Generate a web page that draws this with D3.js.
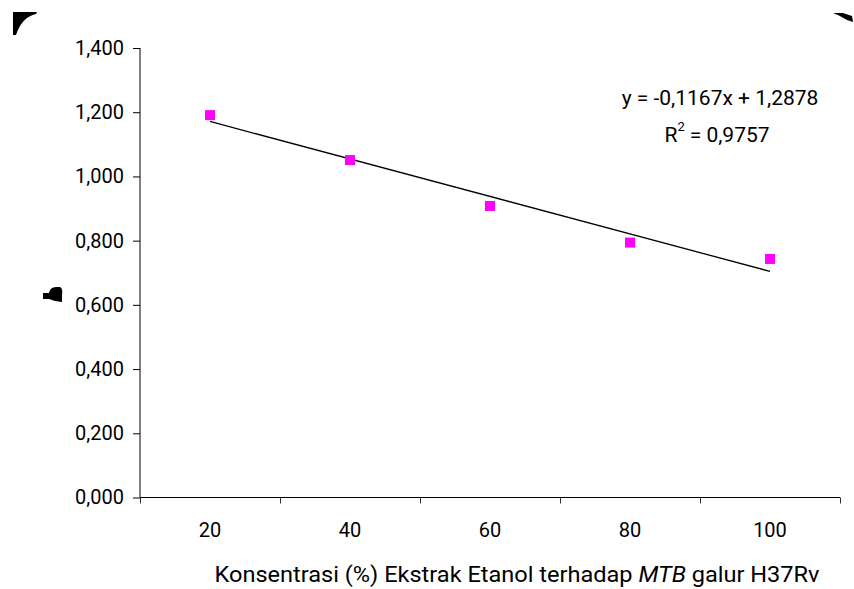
<!DOCTYPE html>
<html>
<head>
<meta charset="utf-8">
<script src="https://cdn.jsdelivr.net/npm/d3@7"></script>
<style>
  html, body { margin: 0; padding: 0; background: #fff; }
  svg { display: block; font-family: Roboto, "Noto Sans", sans-serif; }
</style>
</head>
<body>
<svg id="chart" width="854" height="589"></svg>
<script>
// Concentration categories (%) and measured values
const categories = [20, 40, 60, 80, 100];
const values = [1.191, 1.051, 0.908, 0.794, 0.743];
const yTicks = [0, 0.2, 0.4, 0.6, 0.8, 1.0, 1.2, 1.4];
// Linear trendline y = slope * i + intercept, i = 1..n
const trendSlope = -0.1167;
const trendIntercept = 1.2878;
const equationLines = ["y = -0,1167x + 1,2878", "= 0,9757"];
const xTitle = ["Konsentrasi (%) Ekstrak Etanol terhadap ", "MTB", " galur H37Rv"];

(function () {
const svg = d3.select("#chart");
const plotLeft = 140, plotRight = 840, plotTop = 48, plotBottom = 497.5;

const xIdx = d3.scaleLinear().domain([0.5, categories.length + 0.5]).range([plotLeft, plotRight]);
const y = d3.scaleLinear().domain([0, 1.4]).range([plotBottom, plotTop]);
const fmt = d => d3.format(".3f")(d).replace(".", ",");

// Y axis
const yAxis = svg.append("g")
  .attr("transform", `translate(${plotLeft},0)`)
  .call(d3.axisLeft(y).tickValues(yTicks).tickFormat(fmt).tickSize(7).tickPadding(9));
yAxis.select(".domain").attr("stroke", "#000").attr("d", `M0,${plotTop}V${plotBottom}`);
yAxis.selectAll(".tick line").attr("stroke", "#000");
yAxis.selectAll(".tick text").attr("font-size", 20).attr("fill", "#000")
  .attr("font-family", "Roboto, sans-serif");

// X axis: tick marks on category boundaries
const boundaries = d3.range(0.5, categories.length + 1, 1);
const xAxis = svg.append("g")
  .attr("transform", `translate(0,${plotBottom})`)
  .call(d3.axisBottom(xIdx).tickValues(boundaries).tickFormat("").tickSize(6));
xAxis.select(".domain").attr("stroke", "#000").attr("d", `M${plotLeft},0H${plotRight}`);
xAxis.selectAll(".tick line").attr("stroke", "#333");

// X category labels at band centres
svg.append("g").selectAll("text")
  .data(categories)
  .join("text")
  .attr("x", (d, i) => xIdx(i + 1))
  .attr("y", plotBottom + 39)
  .attr("text-anchor", "middle")
  .attr("font-size", 20)
  .attr("fill", "#000")
  .text(d => d);

// Trendline
const n = categories.length;
svg.append("line")
  .attr("x1", xIdx(1)).attr("y1", y(trendSlope * 1 + trendIntercept))
  .attr("x2", xIdx(n)).attr("y2", y(trendSlope * n + trendIntercept))
  .attr("stroke", "#000").attr("stroke-width", 1.3);

// Data markers
svg.append("g").selectAll("rect")
  .data(values)
  .join("rect")
  .attr("x", (d, i) => xIdx(i + 1) - 5)
  .attr("y", d => y(d) - 5)
  .attr("width", 10).attr("height", 10)
  .attr("fill", "#ff00ff");

// Equation and R²
svg.append("text")
  .attr("x", 720).attr("y", 105)
  .attr("text-anchor", "middle").attr("font-size", 21).attr("fill", "#000")
  .text(equationLines[0]);
const r2 = svg.append("text")
  .attr("x", 717).attr("y", 142)
  .attr("text-anchor", "middle").attr("font-size", 21).attr("fill", "#000");
r2.append("tspan").text("R");
r2.append("tspan").attr("font-size", 13).attr("dy", -11).text("2");
r2.append("tspan").attr("dy", 11).attr("dx", 5).text(equationLines[1]);

// X axis title
const xt = svg.append("text")
  .attr("x", 517).attr("y", 582)
  .attr("text-anchor", "middle").attr("font-size", 22).attr("fill", "#000")
  .attr("textLength", 605).attr("lengthAdjust", "spacingAndGlyphs");
xt.append("tspan").text(xTitle[0]);
xt.append("tspan").attr("font-style", "italic").text(xTitle[1]);
xt.append("tspan").text(xTitle[2]);

// Y axis title mark and corner marks
svg.append("path")
  .attr("d", "M43,293 L49,293 Q50,287 56,287 L60,287 Q63,288 62,295 L62,302 L55,301 L49,299 L43,299 Z")
  .attr("fill", "#000");
svg.append("path")
  .attr("d", "M13,12 L37,12 L36,14 Q22,17 16,35 L13,35 Z")
  .attr("fill", "#000");
svg.append("path")
  .attr("d", "M833,13 L843,13 L852,16 L853,22 L847,20 L838,15 Z")
  .attr("fill", "#000");
})();
</script>
</body>
</html>
